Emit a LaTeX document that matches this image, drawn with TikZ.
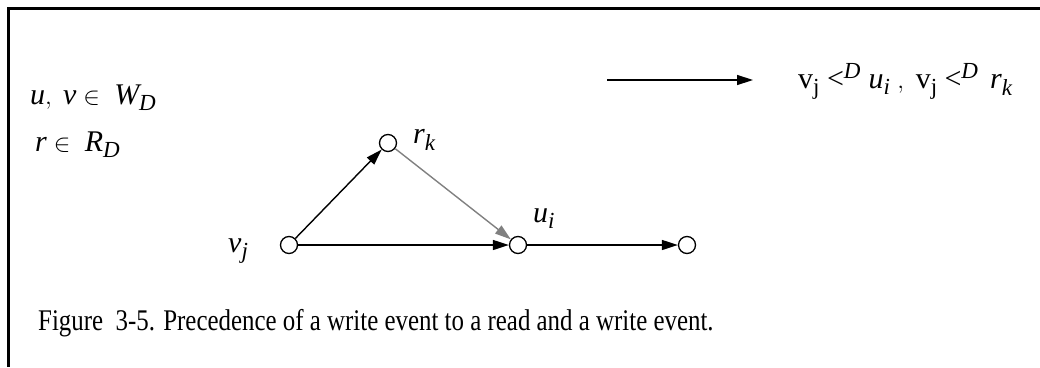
\documentclass[tikz,border=0pt]{standalone}
\usepackage{amsmath}
\usepackage{fontspec}
\setmainfont{Liberation Serif}
\usetikzlibrary{arrows.meta}
\DeclareMathSizes{30}{30}{23}{18}

\tikzset{
  event/.style={circle, draw, line width=1.3pt, minimum size=17pt, inner sep=0pt},
  prec/.style={line width=1.4pt, -{Triangle[length=16pt,width=10pt]}},
  lbl/.style={font=\fontsize{30}{34}\selectfont, inner sep=0pt},
}

\begin{document}
\begin{tikzpicture}[x=1pt, y=-1pt]
	\useasboundingbox (0,0) rectangle (1040,367);
	\draw[line width=3pt] (1040,8.5) -- (8.5,8.5) -- (8.5,367); % frame
	
	% sets
	\node[lbl, anchor=base west] (wset) at (30,104) {$\textit{u},\; \textit{v} \in\ \textit{W}_{\textit{D}}$};
	\node[lbl, anchor=base west] (rset) at (35,151) {$\textit{r} \in\ \textit{R}_{\textit{D}}$};
	
	% events
	\node[event] (vj) at (289,245) {};
	\node[event] (rk) at (388,143) {};
	\node[event] (ui) at (518,245) {};
	\node[event] (wn) at (687,245) {};
	
	\node[lbl, anchor=base west] at (228,252) {$\textit{v}_{\textit{j}}$};
	\node[lbl, anchor=base west] at (413,143) {$\textit{r}_{\textit{k}}$};
	\node[lbl, anchor=base west] at (533,222) {$\textit{u}_{\textit{i}}$};
	
	\draw[prec] (vj) -- (rk);
	\draw[prec, gray] (rk) -- (ui);
	\draw[prec] (vj) -- (ui);
	\draw[prec] (ui) -- (wn);
	
	% result
	\coordinate (from) at (607,80);
	\coordinate (to) at (753,80);
	\draw[prec] (from) -- (to);
	\node[lbl, anchor=base west] (res) at (798,88) {$\text{v}_{\text{j}}\;\text{<}^{\textit{D}}\ \textit{u}_{\textit{i}}\;,\ \text{v}_{\text{j}}\;\text{<}^{\textit{D}}\ \,\textit{r}_{\textit{k}}$};
	
	\node[anchor=base west, inner sep=0pt, font=\fontsize{30}{34}\selectfont, xscale=0.83, transform shape] (cap) at (38,330) {Figure\ \ 3-5. Precedence of a write event to a read and a write event.};
\end{tikzpicture}
\end{document}
